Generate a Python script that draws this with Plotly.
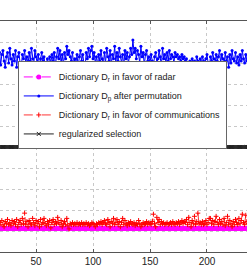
import plotly.graph_objects as go

x_idx = list(range(16, 241))

blue_vals = [
    9.3, 9.0, 9.5, 8.9, 9.4, 9.6, 9.1, 8.8, 9.3, 9.5, 9.0, 9.7, 9.2, 8.9, 9.4,
    9.1, 9.6, 8.8, 9.3, 9.5, 9.0, 8.7, 9.4, 9.2, 9.6, 9.0, 9.3, 8.9, 9.5, 9.1,
    9.7, 9.2, 8.9, 9.6, 9.3, 9.0, 9.4, 8.8, 9.2, 9.5, 9.1, 9.3, 8.9, 9.0, 9.2,
    8.9, 9.3, 9.0, 9.4, 9.1, 9.5, 8.9, 9.3, 9.7, 9.2, 9.6, 9.0, 9.4, 8.9, 9.5,
    9.2, 9.8, 9.4, 9.6, 9.3, 9.1, 9.5, 8.9, 9.2, 9.0, 9.4, 8.8, 9.3, 9.6, 9.1,
    9.4, 9.0, 8.7, 9.5, 9.2, 9.7, 9.3, 9.6, 9.8, 9.2, 9.5, 9.0, 9.3, 8.9, 9.4,
    9.1, 9.6, 9.2, 8.9, 9.5, 9.0, 9.7, 9.3, 9.1, 9.6, 8.9, 9.4, 9.2, 9.8, 9.0,
    9.5, 9.1, 9.7, 9.3, 9.0, 9.4, 8.8, 9.6, 9.2, 9.5, 9.0, 9.3, 9.7, 9.4, 10.1,
    9.5, 9.7, 9.2, 9.6, 9.4, 9.0, 9.8, 9.3, 9.5, 8.9, 9.4, 9.6, 9.1, 9.3, 9.0,
    9.4, 9.1, 8.9, 9.3, 9.5, 9.0, 9.2, 9.6, 9.3, 8.9, 9.7, 9.2, 9.4, 9.0, 9.5,
    9.1, 9.6, 9.2, 9.4, 9.3, 9.0, 9.5, 9.3, 9.4, 9.2, 9.3, 9.1, 9.4, 9.2, 9.3,
    9.1, 9.2, 8.9, 9.0, 9.1, 8.9, 9.2, 8.8, 9.1, 9.0, 9.3, 9.1, 8.8, 9.2, 9.0,
    9.3, 9.1, 8.9, 9.2, 9.4, 9.0, 8.7, 9.3, 9.1, 9.5, 9.2, 8.9, 9.4, 9.1, 9.3,
    9.6, 9.0, 9.4, 9.2, 8.9, 9.5, 9.1, 9.3, 8.8, 9.4, 9.0, 9.6, 9.2, 9.1, 9.5,
    9.0, 9.3, 8.9, 9.4, 9.1, 9.6, 9.2, 9.0, 9.4, 9.1, 9.3, 9.0, 9.5, 9.2, 9.1,
]

red_vals = [
    1.3, 1.45, 1.25, 1.4, 1.5, 1.3, 1.2, 1.45, 1.35, 1.55, 1.3, 1.4, 1.25, 1.5, 1.35,
    1.45, 1.3, 1.55, 1.2, 1.4, 1.5, 1.3, 1.6, 1.35, 1.85, 1.3, 1.45, 1.2, 1.5, 1.35,
    1.3, 1.6, 1.4, 1.25, 1.5, 1.35, 1.45, 1.2, 1.55, 1.3, 1.4, 1.6, 1.35, 1.25, 1.45,
    1.3, 1.5, 1.15, 1.4, 1.55, 1.3, 1.45, 1.35, 1.65, 1.4, 1.3, 1.5, 1.2, 1.35, 1.45,
    1.3, 1.6, 1.25, 1.1, 1.35, 1.3, 1.4, 1.3, 1.35, 1.3, 1.4, 1.3, 1.35, 1.3, 1.4,
    1.3, 1.35, 1.3, 1.4, 1.3, 1.35, 1.25, 1.3, 1.4, 1.35, 1.3, 1.2, 1.35, 1.3, 1.4,
    1.35, 1.45, 1.3, 1.4, 1.5, 1.35, 1.3, 1.55, 1.4, 1.2, 1.45, 1.35, 1.6, 1.3, 1.4,
    1.55, 1.3, 1.45, 1.2, 1.4, 1.6, 1.3, 1.5, 1.35, 1.25, 1.4, 1.3, 1.45, 1.35, 1.3,
    1.4, 1.25, 1.35, 1.3, 1.5, 1.35, 1.2, 1.3, 1.4, 1.3, 1.35, 1.45, 1.3, 1.4, 1.35,
    1.3, 1.45, 1.8, 1.35, 1.2, 1.65, 1.4, 1.55, 1.3, 1.45, 1.35, 1.4, 1.3, 1.35, 1.4,
    1.3, 1.35, 1.4, 1.3, 1.45, 1.35, 1.3, 1.4, 1.35, 1.45, 1.3, 1.4, 1.5, 1.35, 1.45,
    1.4, 1.55, 1.3, 1.65, 1.4, 1.2, 1.5, 1.35, 1.7, 1.3, 1.45, 1.85, 1.35, 1.4, 1.3,
    1.45, 1.3, 1.35, 1.5, 1.3, 1.4, 1.6, 1.6, 1.35, 1.5, 1.3, 1.45, 1.7, 1.4, 1.3,
    1.55, 1.35, 1.45, 1.3, 1.6, 1.25, 1.4, 1.7, 1.3, 1.5, 1.35, 1.2, 1.45, 1.3, 1.55,
    1.4, 1.3, 1.6, 1.35, 1.5, 1.8, 1.4, 1.3, 1.75, 1.45, 1.35, 1.5, 1.3, 1.4, 1.35,
]

magenta_level = 1.12
black_level = 5.0
magenta_vals = [magenta_level] * len(x_idx)
black_vals = [black_level] * len(x_idx)

names = [
    "Dictionary D<sub>r</sub> in favor of radar",
    "Dictionary D<sub>p</sub> after permutation",
    "Dictionary D<sub>r</sub> in favor of communications",
    "regularized selection",
]
x_ticks = [50, 100, 150, 200]

fig = go.Figure()
fig.add_trace(go.Scatter(
    x=x_idx, y=magenta_vals, name=names[0], mode="lines+markers",
    line=dict(color="#ff00ff", width=1, dash="dashdot"),
    marker=dict(color="#ff00ff", size=5, symbol="circle"),
))
fig.add_trace(go.Scatter(
    x=x_idx, y=blue_vals, name=names[1], mode="lines+markers",
    line=dict(color="#0000ff", width=1),
    marker=dict(color="#0000ff", size=3, symbol="circle"),
))
fig.add_trace(go.Scatter(
    x=x_idx, y=red_vals, name=names[2], mode="lines+markers",
    line=dict(color="#ff0000", width=0.8, dash="dash"),
    marker=dict(color="#ff0000", size=3.5, symbol="cross-thin-open",
                line=dict(width=1, color="#ff0000")),
))
fig.add_trace(go.Scatter(
    x=x_idx, y=black_vals, name=names[3], mode="lines+markers",
    line=dict(color="#222222", width=1),
    marker=dict(color="#222222", size=4, symbol="x-thin-open", line=dict(width=1, color="#222222")),
))

fig.update_layout(
    width=247, height=270,
    margin=dict(l=0, r=0, t=21, b=18),
    paper_bgcolor="white", plot_bgcolor="white",
    font=dict(family="Liberation Sans, Arial, sans-serif", size=10, color="#222222"),
    showlegend=True,
    legend=dict(
        x=0.072, y=0.825, xanchor="left", yanchor="top",
        bgcolor="white", bordercolor="#666666", borderwidth=1,
        font=dict(size=9, color="#222222"),
        tracegroupgap=0, itemwidth=30,
    ),
)
fig.update_xaxes(
    range=[18.4, 235.1], tickvals=x_ticks, ticktext=[str(v) for v in x_ticks],
    showline=True, linecolor="#555555", linewidth=1, mirror="ticks",
    ticks="inside", ticklen=3, tickcolor="#555555",
    showgrid=True, gridcolor="#c8c8c8", griddash="dot", gridwidth=1,
    zeroline=False, tickfont=dict(size=10),
)
fig.update_yaxes(
    range=[0, 11], dtick=1, showticklabels=False, showline=False,
    showgrid=True, gridcolor="#c8c8c8", griddash="dot", gridwidth=1,
    zeroline=False,
)

fig.write_html("out.html", config={"displayModeBar": False},
               post_script="document.body.style.margin='0';")
